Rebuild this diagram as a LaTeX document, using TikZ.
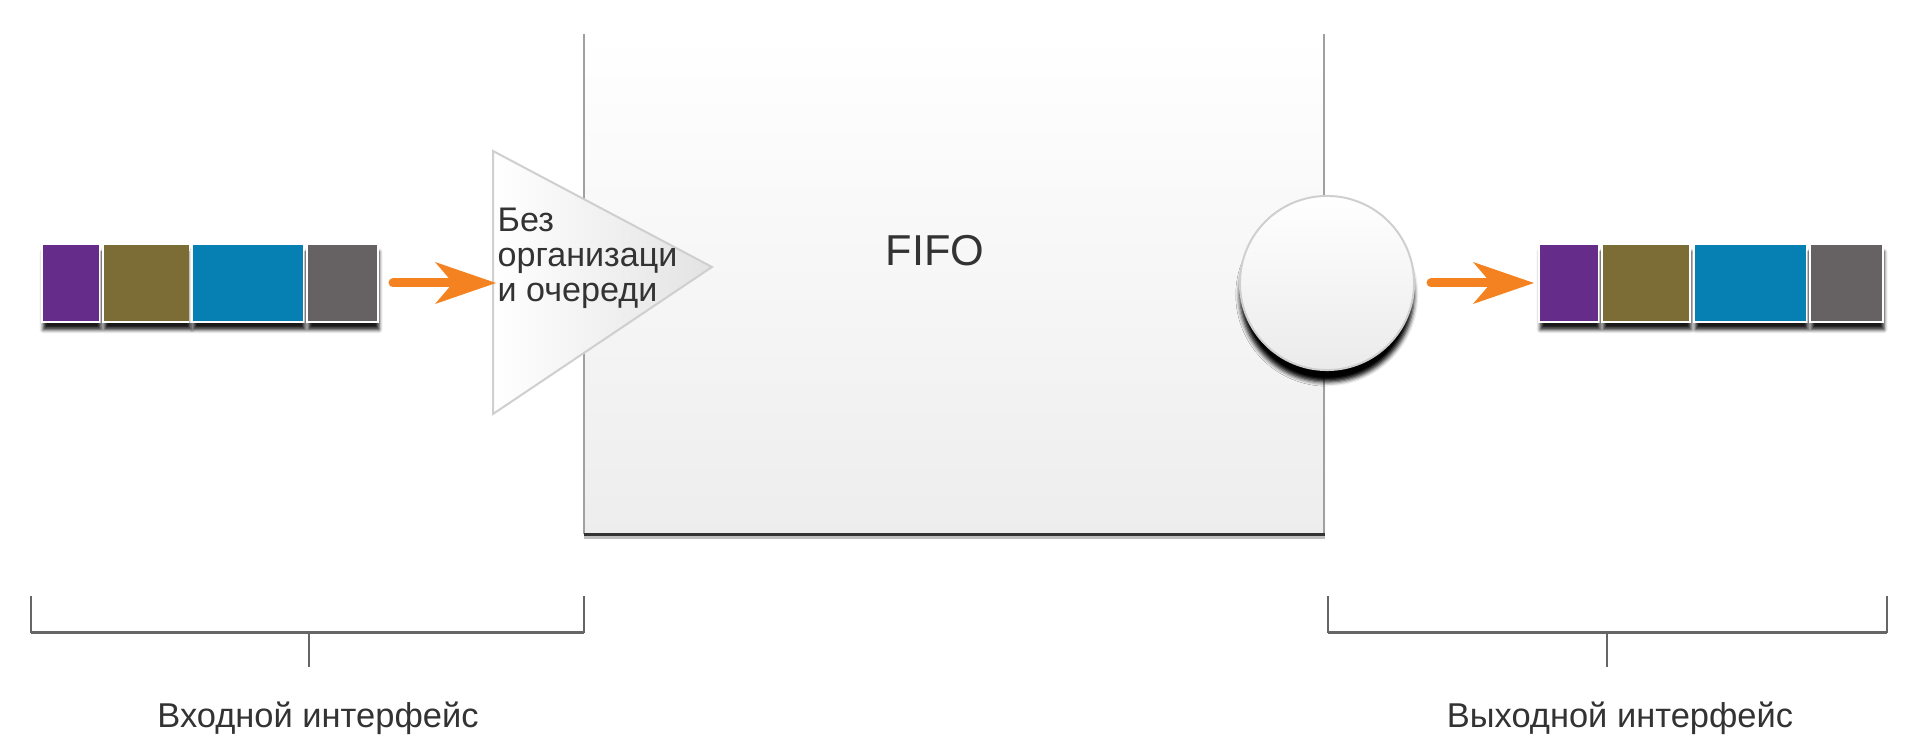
\documentclass[tikz,border=0pt]{standalone}
\usepackage{fontspec}
\setmainfont{Liberation Sans}
\usetikzlibrary{arrows.meta,shadows.blur}
\definecolor{pkpurple}{HTML}{652D89}
\definecolor{pkolive}{HTML}{7C6C35}
\definecolor{pkblue}{HTML}{0680B2}
\definecolor{pkgray}{HTML}{666263}
\definecolor{arroworange}{HTML}{F58220}
\definecolor{txtgray}{HTML}{333333}
\definecolor{edgegray}{HTML}{A0A0A0}
\definecolor{shapeline}{HTML}{CFCFCF}
\definecolor{bracketgray}{HTML}{666666}
\begin{document}
\begin{tikzpicture}[x=0.01cm,y=-0.01cm,
  pkt/.style={draw=white, line width=0.02cm, inner sep=0pt, minimum height=0.78cm,
    blur shadow={shadow xshift=0.3pt, shadow yshift=-2.2pt, shadow blur radius=1pt, shadow opacity=90}},
  flowarrow/.style={draw=arroworange, line width=0.09cm, line cap=round,
    -{Stealth[length=0.61cm,width=0.42cm,inset=0.18cm,line width=0pt]}},
  txt/.style={text=txtgray, inner sep=0pt, font=\fontsize{9.7pt}{9.96pt}\selectfont},
  brk/.style={draw=bracketgray, line width=0.02cm},
]
\useasboundingbox (0,0) rectangle (1920,755);
% main box
\path[top color=white, bottom color=black!7] (584,34) rectangle (1325,534);
\draw[edgegray, line width=0.02cm] (584,34) -- (584,534);
\draw[edgegray, line width=0.02cm] (1324,34) -- (1324,534);
\draw[black!25, line width=0.03cm] (584,538) -- (1325,538);
\draw[black!80, line width=0.035cm] (584,534.5) -- (1325,534.5);
\node[font=\fontsize{12.3pt}{14pt}\selectfont, text=txtgray, inner sep=0pt, anchor=base] (fifo) at (935,266) {FIFO};
% triangle
\path[draw=shapeline, line width=0.02cm, left color=white, right color=black!11]
  (493,151) -- (712,267) -- (493,414) -- cycle;
\coordinate (intip) at (496,283);
\node[txt, anchor=base west] (tri1) at (497,232) {Без};
\node[txt, anchor=base west] (tri2) at (497,267) {организаци};
\node[txt, anchor=base west] (tri3) at (497,302) {и очереди};
% circle
\node[circle, draw=shapeline, line width=0.02cm, minimum size=1.74cm, inner sep=0pt,
  top color=white, bottom color=black!8,
  blur shadow={shadow xshift=0pt, shadow yshift=-3.4pt, shadow blur radius=1.2pt, shadow opacity=100}]
  (sched) at (1327,283) {};
% input packets
\node[pkt, fill=pkpurple, minimum width=0.58cm] (inP1) at (71,283) {};
\node[pkt, fill=pkolive, minimum width=0.87cm] (inP2) at (146.5,283) {};
\node[pkt, fill=pkblue, minimum width=1.12cm] (inP3) at (248,283) {};
\node[pkt, fill=pkgray, minimum width=0.71cm] (inP4) at (342.5,283) {};
% output packets
\node[pkt, fill=pkpurple, minimum width=0.60cm] (outP1) at (1569,283) {};
\node[pkt, fill=pkolive, minimum width=0.88cm] (outP2) at (1646,283) {};
\node[pkt, fill=pkblue, minimum width=1.13cm] (outP3) at (1750.5,283) {};
\node[pkt, fill=pkgray, minimum width=0.73cm] (outP4) at (1846.5,283) {};
% arrows
\draw[flowarrow, shorten <=0.14cm] (inP4.east) -- (intip);
\draw[flowarrow, shorten <=0.16cm, shorten >=0.04cm] (sched.east) -- (outP1.west);
% brackets
\coordinate (lbA) at (31,596); \coordinate (lbB) at (584,596);
\coordinate (lbS) at (309,633); \coordinate (lbE) at (309,667);
\draw[brk] (lbA) -- (31,633);
\draw[brk] (lbB) -- (584,633);
\draw[brk, line width=0.03cm] (31,633) -- (584,633);
\draw[brk, line width=0.015cm] (lbS) -- (lbE);
\coordinate (rbA) at (1328,596); \coordinate (rbB) at (1887,596);
\coordinate (rbS) at (1607,633); \coordinate (rbE) at (1607,667);
\draw[brk] (rbA) -- (1328,633);
\draw[brk] (rbB) -- (1887,633);
\draw[brk, line width=0.03cm] (1328,633) -- (1887,633);
\draw[brk, line width=0.015cm] (rbS) -- (rbE);
\node[txt, font=\fontsize{9.8pt}{12pt}\selectfont, anchor=base] (inlabel) at (318,728) {Входной интерфейс};
\node[txt, font=\fontsize{9.8pt}{12pt}\selectfont, anchor=base] (outlabel) at (1620,728) {Выходной интерфейс};
\end{tikzpicture}
\end{document}
